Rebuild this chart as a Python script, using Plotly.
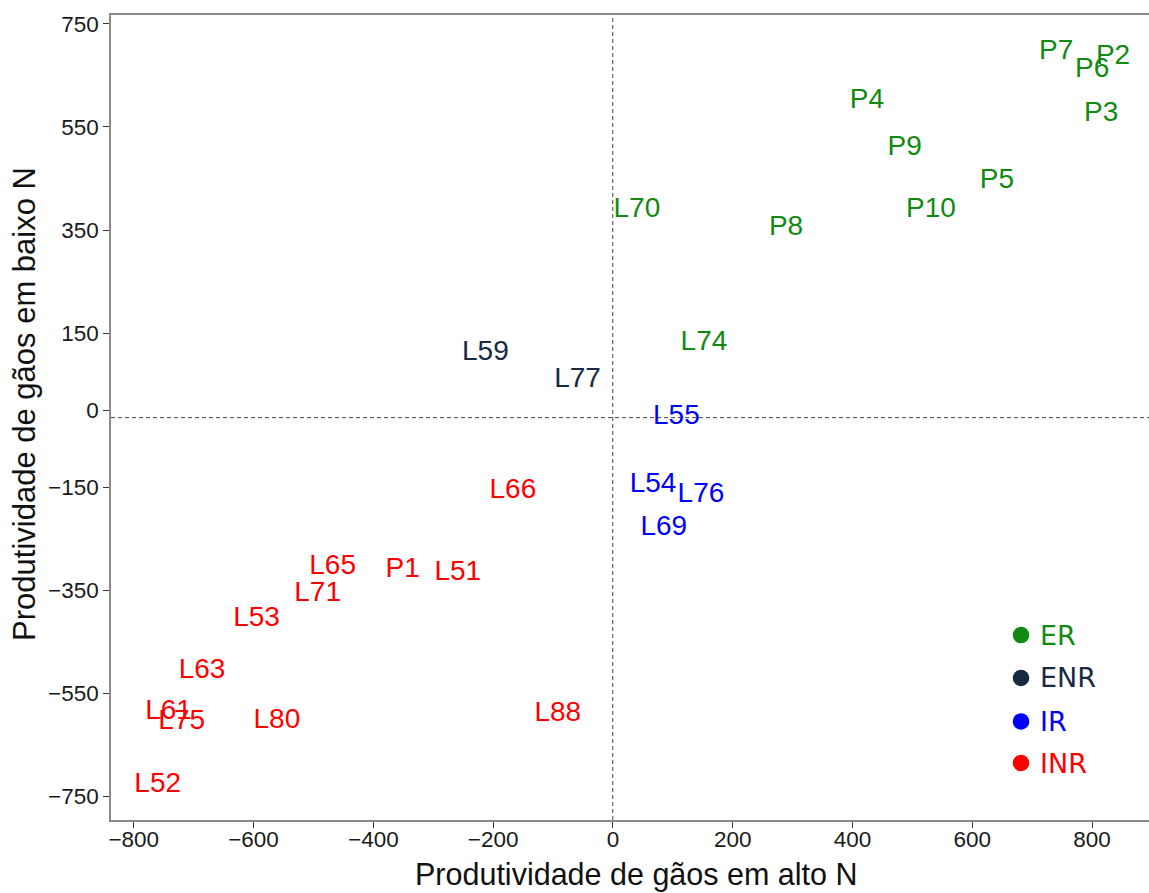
import numpy as np
import plotly.graph_objects as go

# Genotype labels and their grain yield scores (high N on x, low N on y)
er_labels = ["P7", "P2", "P6", "P3", "P4", "P9", "P5", "P10", "L70", "P8", "L74"]
er_x = [740, 835, 800, 815, 424, 487, 641, 531, 40, 289, 152]
er_y = [696, 686, 660, 575, 601, 509, 445, 389, 388, 354, 131]

enr_labels = ["L59", "L77"]
enr_x = [-213, -59]
enr_y = [111, 59]

ir_labels = ["L55", "L54", "L76", "L69"]
ir_x = [106, 67, 147, 85]
ir_y = [-13, -146, -165, -229]

inr_labels = ["L66", "L65", "P1", "L51", "L71", "L53", "L63", "L61", "L75", "L80", "L88", "L52"]
inr_x = [-167, -468, -351, -259, -493, -595, -686, -742, -720, -561, -92, -760]
inr_y = [-157, -304, -311, -316, -356, -406, -506, -585, -605, -603, -589, -727]

groups = [
    ("ER", er_labels, er_x, er_y, "#118a11"),
    ("ENR", enr_labels, enr_x, enr_y, "#172a41"),
    ("IR", ir_labels, ir_x, ir_y, "#0000ff"),
    ("INR", inr_labels, inr_x, inr_y, "#ff0000"),
]

x_ticks = [-800, -600, -400, -200, 0, 200, 400, 600, 800]
y_ticks = [-750, -550, -350, -150, 0, 150, 350, 550, 750]

x_title = "Produtividade de gãos em alto N"
y_title = "Produtividade de gãos em baixo N"

label_font = "Liberation Sans, Arial, sans-serif"

fig = go.Figure()
for name, labels, xs, ys, color in groups:
    fig.add_trace(go.Scatter(
        x=xs, y=ys, text=labels, mode="text", name=name,
        textposition="middle center",
        textfont=dict(family=label_font, size=28, color=color),
        cliponaxis=False, showlegend=False, hoverinfo="text",
    ))

# Reference lines through the means of both scores
all_x = np.array(er_x + enr_x + ir_x + inr_x, dtype=float)
all_y = np.array(er_y + enr_y + ir_y + inr_y, dtype=float)
mean_x = float(all_x.mean())
mean_y = float(all_y.mean())

line_style = dict(color="#444444", width=1, dash="4px,3px")
fig.add_shape(type="line", xref="x", yref="paper", x0=mean_x, x1=mean_x,
              y0=0, y1=1, line=line_style, layer="below")
fig.add_shape(type="line", xref="paper", yref="y", x0=0, x1=1,
              y0=mean_y, y1=mean_y, line=line_style, layer="below")

# Group key in the lower right corner
key_x = 0.8767
key_rows = [0.2298, 0.1764, 0.1224, 0.0708]
for (name, _, _, _, color), ky in zip(groups, key_rows):
    fig.add_shape(type="circle", xref="paper", yref="paper",
                  xsizemode="pixel", ysizemode="pixel",
                  xanchor=key_x, yanchor=ky, x0=-8.3, x1=8.3, y0=-8.3, y1=8.3,
                  fillcolor=color, line=dict(width=0))
    fig.add_annotation(xref="paper", yref="paper", x=0.8931, y=ky,
                       xanchor="left", yanchor="middle", showarrow=False,
                       text=name, font=dict(family="DejaVu Sans", size=27, color=color))

# Axis titles
fig.add_annotation(xref="paper", yref="paper", x=0.5058, y=-0.0671,
                   xanchor="center", yanchor="middle", showarrow=False,
                   text=x_title, font=dict(family=label_font, size=30.5, color="#111111"))
fig.add_annotation(xref="paper", yref="paper", x=-0.0829, y=0.5168,
                   xanchor="center", yanchor="middle", showarrow=False, textangle=-90,
                   text=y_title, font=dict(family=label_font, size=31, color="#111111"))

axis_common = dict(
    showgrid=False, zeroline=False, showline=True, linecolor="#8a8a8a", linewidth=1.5,
    ticks="outside", ticklen=6, tickwidth=1, tickcolor="#333333",
    tickfont=dict(family=label_font, size=22.5, color="#1a1a1a"),
)

fig.update_layout(
    width=1149, height=893,
    margin=dict(l=111, r=0, t=15, b=73),
    paper_bgcolor="white", plot_bgcolor="white",
    xaxis=dict(range=[-838, 895], tickvals=x_ticks, mirror=True,
               ticklabelstandoff=-8, **axis_common),
    yaxis=dict(range=[-795.4, 767.4], tickvals=y_ticks, **axis_common),
    showlegend=False,
)

fig.write_html("out.html")
